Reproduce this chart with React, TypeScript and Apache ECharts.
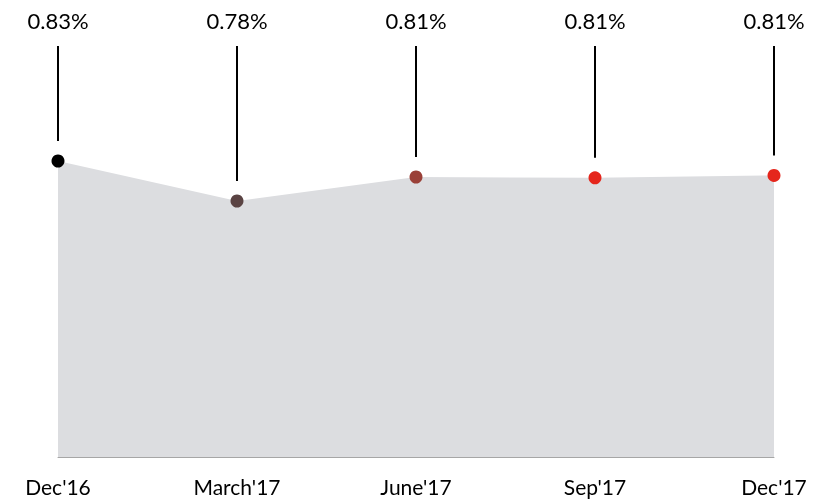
import React, { useEffect, useRef } from "react";
import * as echarts from "echarts";

const categories = ["Dec'16", "March'17", "June'17", "Sep'17", "Dec'17"];
const values = [0.83, 0.78, 0.81, 0.809, 0.812];
const pointColors = ["#000000", "#5a4343", "#9a4038", "#e5261c", "#e5261c"];

const FONT = "Lato, 'Liberation Sans', sans-serif";

export default function App() {
  const ref = useRef<HTMLDivElement>(null);
  useEffect(() => {
    if (!ref.current) return;
    const chart = echarts.init(ref.current, undefined, { renderer: "svg" });
    chart.setOption({
      animation: false,
      grid: { left: 58, right: 39, top: 105, bottom: 42 },
      xAxis: {
        type: "category",
        data: categories,
        boundaryGap: false,
        axisLine: { lineStyle: { color: "#a6a6a6", width: 1 } },
        axisTick: { show: false },
        axisLabel: { color: "#000", fontSize: 21, fontFamily: FONT, margin: 19 },
        splitLine: { show: false },
      },
      yAxis: {
        type: "value",
        min: 0.46,
        max: 0.9,
        show: false,
        splitLine: { show: false },
      },
      series: [
        {
          type: "line",
          data: values.map((v, i) => ({ value: v, itemStyle: { color: pointColors[i] } })),
          symbol: "circle",
          symbolSize: 13,
          showAllSymbol: true,
          lineStyle: { width: 0, color: "#dcdde0" },
          areaStyle: { color: "#dcdde0", opacity: 1 },
          z: 3,
        },
        {
          type: "custom",
          clip: false,
          data: values.map((v, i) => [i, v]),
          renderItem: (params: any, api: any) => {
            const p = api.coord([api.value(0), api.value(1)]);
            const v = api.value(1) as number;
            return {
              type: "group",
              children: [
                {
                  type: "line",
                  shape: { x1: p[0], y1: 46, x2: p[0], y2: p[1] - 20 },
                  style: { stroke: "#000", lineWidth: 2 },
                },
                {
                  type: "text",
                  x: p[0],
                  y: 20,
                  style: {
                    text: v.toFixed(2) + "%",
                    fill: "#000",
                    fontSize: 22,
                    fontFamily: FONT,
                    align: "center",
                    verticalAlign: "middle",
                  },
                },
              ],
            };
          },
          z: 4,
        },
      ],
    });
    return () => chart.dispose();
  }, []);
  return (
    <div
      ref={ref}
      style={{ position: "fixed", left: 0, top: 0, width: 813, height: 499 }}
    />
  );
}
